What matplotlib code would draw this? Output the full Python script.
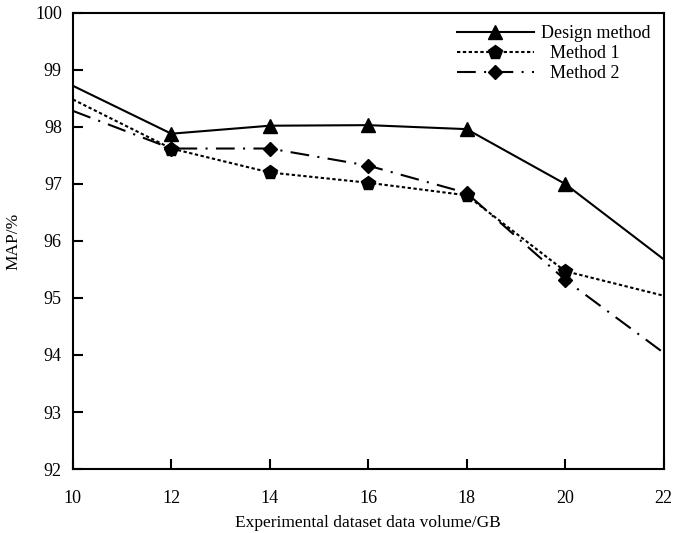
import matplotlib
matplotlib.use("Agg")
import matplotlib.pyplot as plt

plt.rcParams["font.family"] = ["Liberation Serif", "DejaVu Serif"]

volume = [10, 12, 14, 16, 18, 20, 22]
design = [98.72, 97.88, 98.02, 98.03, 97.96, 97.0, 95.68]
method1 = [98.48, 97.62, 97.2, 97.02, 96.8, 95.47, 95.04]
method2 = [98.28, 97.62, 97.62, 97.32, 96.84, 95.32, 94.04]

fig = plt.figure(figsize=(6.75, 5.33), dpi=100)
ax = fig.add_axes([0.108, 0.12, 0.875, 0.856])

mk = slice(1, 6)
ax.plot(volume, design, color="black", lw=1.5, marker="^", ms=10,
        markevery=mk, label="Design method")
ax.plot(volume, method1, color="black", lw=1.5, ls=(0, (1.6, 1.2)), marker="p",
        ms=10, markevery=mk, label="  Method 1")
ax.plot(volume, method2, color="black", lw=1.5, ls=(0, (9, 4, 1, 4)), marker="D",
        ms=7.5, markevery=mk, label="  Method 2")

ax.set_xlim(10, 22)
ax.set_ylim(92, 100)
ax.set_xticks(volume)
ax.set_yticks(range(92, 101))
ax.tick_params(direction="in", length=7, width=1.5, labelsize=13, pad=8)
ax.tick_params(axis="x", pad=15)
for s in ax.spines.values():
    s.set_linewidth(1.5)

ax.set_xlabel("Experimental dataset data volume/GB", fontsize=12.5, labelpad=6)
ax.set_ylabel("MAP/%", fontsize=12.5, labelpad=10)

ax.legend(loc="upper right", frameon=False, fontsize=13, handlelength=4.3,
          handletextpad=0.4, borderaxespad=0.3, labelspacing=0.15)

fig.savefig("out.png", dpi=100)
